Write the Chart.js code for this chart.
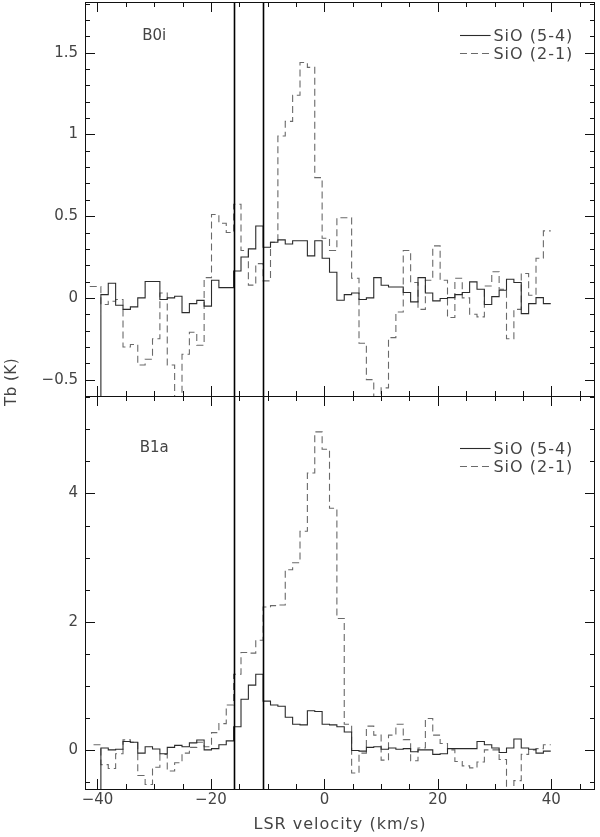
<!DOCTYPE html>
<html><head><meta charset="utf-8">
<script src="https://cdn.jsdelivr.net/npm/chart.js@4.4.0/dist/chart.umd.min.js"></script>
<style>
html,body{margin:0;padding:0;background:#fff;}
#wrap{position:relative;width:600px;height:837px;background:#fff;}
canvas{position:absolute;left:0;top:0;}
</style></head><body>
<div id="wrap"><canvas id="cTop" width="600" height="837"></canvas><canvas id="cBot" width="600" height="837"></canvas></div>
<script>
// ---- channel grid (left edges of velocity channels, km/s) ----
const channelEdges = [-39.4,-38.1,-36.8,-35.5,-34.2,-32.9,-31.6,-30.3,-29.0,-27.7,-26.4,-25.1,-23.8,-22.5,-21.2,-19.9,-18.6,-17.3,-16.0,-14.7,-13.4,-12.1,-10.8,-9.5,-8.2,-6.9,-5.6,-4.3,-3.0,-1.7,-0.4,0.9,2.2,3.5,4.8,6.1,7.4,8.7,10.0,11.3,12.6,13.9,15.2,16.5,17.8,19.1,20.4,21.7,23.0,24.3,25.6,26.9,28.2,29.5,30.8,32.1,33.4,34.7,36.0,37.3,38.6];
const channelEnd = 39.9;
const solidLeadIn = -1.0; // 5-4 histograms rise from below the lower edge

// ---- B0i panel ----
const b0iSiO54 = [0.02,0.09,-0.045,-0.07,-0.055,0.0,0.10,0.10,-0.01,0.0,0.01,-0.09,-0.035,-0.015,-0.05,0.108,0.063,0.063,0.165,0.25,0.30,0.44,0.31,0.34,0.355,0.33,0.35,0.35,0.257,0.35,0.243,0.157,-0.014,0.02,0.03,-0.01,0.0,0.124,0.077,0.067,0.067,0.033,-0.024,0.124,0.03,-0.018,-0.004,0.002,0.02,0.033,0.098,0.053,-0.04,0.008,0.047,0.114,0.094,-0.096,-0.035,0.002,-0.035];
const b0iSiO21LeadEdges = [-43.3,-42.0,-40.7];
const b0iSiO21Lead = [0.07,0.07,0.07];
const b0iSiO21 = [-0.04,-0.02,-0.01,-0.30,-0.285,-0.41,-0.375,-0.25,0.03,-0.41,-0.8,-0.345,-0.21,-0.29,0.124,0.51,0.457,0.40,0.573,0.29,0.078,0.21,0.104,0.34,0.99,1.08,1.24,1.44,1.41,0.736,0.365,0.29,0.49,0.49,0.12,-0.277,-0.50,-0.8,-0.55,-0.243,-0.086,0.29,0.094,-0.07,0.108,0.318,0.108,-0.12,0.12,0.0,-0.10,-0.116,0.073,0.16,0.053,-0.25,-0.07,0.149,0.016,0.243,0.41];

// ---- B1a panel ----
const b1aSiO54 = [0.03,0.0,0.01,0.13,0.12,-0.05,0.05,0.015,-0.06,0.04,0.07,0.05,0.11,0.155,0.0,0.02,0.08,0.14,0.36,0.79,1.01,1.18,0.76,0.70,0.68,0.51,0.40,0.39,0.61,0.60,0.40,0.39,0.36,0.28,-0.01,-0.02,0.04,0.05,0.01,0.03,0.01,0.02,-0.03,0.0,0.0,-0.07,-0.06,0.02,0.02,0.02,0.02,0.13,0.08,0.03,-0.04,0.03,0.17,0.03,0.01,-0.05,-0.02];
const b1aSiO21LeadEdges = [-40.7];
const b1aSiO21Lead = [0.08];
const b1aSiO21 = [-0.23,-0.29,-0.06,0.156,0.12,-0.40,-0.54,-0.27,-0.07,-0.33,-0.20,-0.05,0.04,0.12,0.05,0.27,0.41,0.70,1.18,1.52,1.51,1.71,2.23,2.25,2.26,2.81,2.92,3.41,4.32,4.96,4.69,3.77,2.05,0.40,-0.36,-0.05,0.37,0.23,-0.16,0.23,0.40,0.16,-0.17,0.03,0.49,0.23,0.10,0.0,-0.18,-0.25,-0.28,-0.19,0.0,0.0,-0.15,-0.8,-0.48,-0.07,0.0,0.02,0.08];

// ---- markers, labels, ticks ----
const markerVelocities = [-16.0, -10.8];
const seriesLabels = ['SiO (5-4)', 'SiO (2-1)'];
const panelNames = ['B0i', 'B1a'];
const xRange = [-42.2, 47.7];
const xTickValues = [-40, -20, 0, 20, 40];
const xMinorStep = 5;
const topRange = [-0.6, 1.81];
const topTickValues = [-0.5, 0, 0.5, 1, 1.5];
const topMinorStep = 0.1;
const botRange = [-0.61, 5.52];
const botTickValues = [0, 2, 4];
const botMinorStep = 0.5;
const xTitle = 'LSR velocity (km/s)';
const yTitle = 'Tb (K)';

const FONT = 'DejaVu Sans';
const TEXT = '#444';

function histPoints(edges, values, leadIn) {
  const pts = [];
  if (leadIn !== undefined) pts.push({x: edges[0], y: leadIn});
  edges.forEach((e, i) => pts.push({x: e, y: values[i]}));
  pts.push({x: channelEnd, y: values[values.length - 1]});
  return pts;
}
function fmt(v) { return (v < 0 ? '\u2212' : '') + String(Math.abs(v)); }

function decor(panelName, labelY, isBottom, minorStep) {
  return {
    id: 'decor' + panelName,
    afterDatasetsDraw(chart) {
      const {ctx, chartArea: a, scales: {x, y}} = chart;
      ctx.save();
      // vertical marker lines
      ctx.strokeStyle = '#000'; ctx.lineWidth = 1.6;
      markerVelocities.forEach(v => {
        const px = Math.round(x.getPixelForValue(v)) + 0.5;
        ctx.beginPath(); ctx.moveTo(px, a.top); ctx.lineTo(px, a.bottom); ctx.stroke();
      });
      // frame
      ctx.lineWidth = 1; ctx.strokeStyle = '#111';
      ctx.strokeRect(a.left + 0.5, a.top + 0.5, a.right - a.left - 1, a.bottom - a.top);
      // x ticks (inward, top & bottom)
      for (let v = Math.ceil(xRange[0] / xMinorStep) * xMinorStep; v <= xRange[1]; v += xMinorStep) {
        const px = Math.round(x.getPixelForValue(v)) + 0.5;
        const len = xTickValues.includes(v) ? 10 : 5;
        ctx.beginPath();
        ctx.moveTo(px, a.top); ctx.lineTo(px, a.top + len);
        ctx.moveTo(px, a.bottom); ctx.lineTo(px, a.bottom - len);
        ctx.stroke();
      }
      // y ticks (inward, left & right)
      const majors = y.ticks.map(t => t.value);
      const n0 = Math.ceil(y.min / minorStep - 1e-6), n1 = Math.floor(y.max / minorStep + 1e-6);
      for (let n = n0; n <= n1; n++) {
        const v = n * minorStep;
        const py = Math.round(y.getPixelForValue(v)) + 0.5;
        const isMajor = majors.some(m => Math.abs(m - v) < 1e-6);
        const len = isMajor ? 10 : 5;
        ctx.beginPath();
        ctx.moveTo(a.left, py); ctx.lineTo(a.left + len, py);
        ctx.moveTo(a.right, py); ctx.lineTo(a.right - len, py);
        ctx.stroke();
      }
      // panel name
      ctx.fillStyle = TEXT;
      ctx.font = '15px "' + FONT + '"';
      ctx.textAlign = 'center'; ctx.textBaseline = 'middle';
      ctx.fillText(panelName, x.getPixelForValue(-30), y.getPixelForValue(labelY));
      // legend
      ctx.font = '16px "' + FONT + '"';
      ctx.letterSpacing = '1px';
      const ly0 = y.getPixelForValue(labelY) - 1;
      chart.data.datasets.forEach((ds, i) => {
        const ly = Math.round(ly0 + i * 18) + 0.5;
        ctx.save();
        ctx.strokeStyle = ds.borderColor; ctx.lineWidth = ds.borderWidth;
        ctx.setLineDash(ds.borderDash || []);
        ctx.beginPath();
        ctx.moveTo(x.getPixelForValue(23.9), ly); ctx.lineTo(x.getPixelForValue(29.3), ly);
        ctx.stroke();
        ctx.restore();
        ctx.textAlign = 'left';
        ctx.fillText(ds.label, x.getPixelForValue(29.8), ly + 1.5);
      });
      if (isBottom) {
        // x axis title
        ctx.textAlign = 'center'; ctx.textBaseline = 'middle';
        ctx.fillText(xTitle, (a.left + a.right) / 2, 825);
        // y axis title spanning both panels
        ctx.save();
        ctx.translate(12, 382);
        ctx.rotate(-Math.PI / 2);
        ctx.font = '15px "' + FONT + '"';
        ctx.letterSpacing = '0.5px';
        ctx.fillText(yTitle, 0, 0);
        ctx.restore();
      }
      ctx.letterSpacing = '0px';
      ctx.restore();
    }
  };
}

function datasets(solid, dashedEdges, dashed) {
  return [
    {label: seriesLabels[0], data: histPoints(channelEdges, solid, solidLeadIn), borderColor: '#2b2b2b', borderWidth: 1.1, stepped: true, pointRadius: 0, fill: false},
    {label: seriesLabels[1], data: histPoints(dashedEdges, dashed), borderColor: '#6a6a6a', borderWidth: 1.1, borderDash: [7, 4], stepped: true, pointRadius: 0, fill: false}
  ];
}

function yScale(range, tickValues) {
  return {
    type: 'linear', min: range[0], max: range[1],
    afterBuildTicks(s) { s.ticks = tickValues.map(v => ({value: v})); },
    afterFit(s) { s.width = 85; s.paddingTop = 0; s.paddingBottom = 0; },
    grid: {display: false, drawTicks: false}, border: {display: false},
    ticks: {padding: 7, color: TEXT, font: {family: FONT, size: 15}, callback: v => fmt(v), autoSkip: false}
  };
}

const common = {responsive: false, animation: false, events: [], plugins: {legend: {display: false}, tooltip: {enabled: false}}};

new Chart(document.getElementById('cTop'), {
  type: 'line',
  data: {datasets: datasets(b0iSiO54, b0iSiO21LeadEdges.concat(channelEdges), b0iSiO21Lead.concat(b0iSiO21))},
  options: Object.assign({}, common, {
    layout: {padding: {left: 0, right: 5, top: 2, bottom: 441}},
    scales: {
      x: {type: 'linear', min: xRange[0], max: xRange[1], display: false},
      y: yScale(topRange, topTickValues)
    }
  }),
  plugins: [decor(panelNames[0], 1.6, false, topMinorStep)]
});

new Chart(document.getElementById('cBot'), {
  type: 'line',
  data: {datasets: datasets(b1aSiO54, b1aSiO21LeadEdges.concat(channelEdges), b1aSiO21Lead.concat(b1aSiO21))},
  options: Object.assign({}, common, {
    layout: {padding: {left: 0, right: 5, top: 396, bottom: 0}},
    scales: {
      x: {
        type: 'linear', min: xRange[0], max: xRange[1],
        afterBuildTicks(s) { s.ticks = xTickValues.map(v => ({value: v})); },
        afterFit(s) { s.height = 48; s.paddingLeft = 0; s.paddingRight = 0; },
        grid: {display: false, drawTicks: false}, border: {display: false},
        ticks: {padding: 2, color: TEXT, font: {family: FONT, size: 15}, callback: v => fmt(v), autoSkip: false, maxRotation: 0}
      },
      y: yScale(botRange, botTickValues)
    }
  }),
  plugins: [decor(panelNames[1], 4.7, true, botMinorStep)]
});
</script>
</body></html>
